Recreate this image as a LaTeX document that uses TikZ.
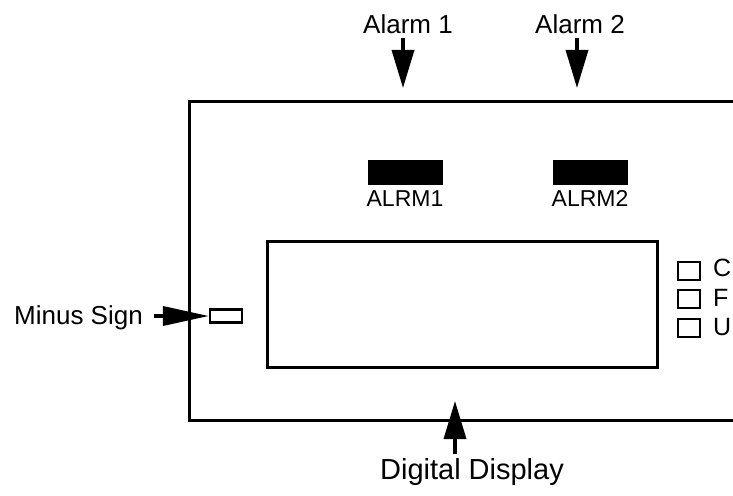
\documentclass[tikz,border=0pt]{standalone}
\usepackage{fontspec}
\setmainfont{Liberation Sans}
\usetikzlibrary{positioning,arrows.meta}

\begin{document}
\begin{tikzpicture}[
    x=1pt, y=-1pt,
    >={Triangle[length=38pt, width=22pt]},
    lbl/.style={inner sep=0pt, font=\fontsize{26}{28}\selectfont},
    small/.style={inner sep=0pt, font=\fontsize{23}{25}\selectfont},
    led/.style={rectangle, fill=black, inner sep=0pt, minimum width=75pt, minimum height=25pt},
    unitbox/.style={rectangle, draw=black, line width=2.2pt, inner sep=0pt, minimum width=22pt, minimum height=18pt},
    arrow/.style={->, line width=3.5pt},
    frame/.style={line width=3pt}
    ]
    \useasboundingbox (0,0) rectangle (733,495);

    % panel outline, open to the right
    \draw[frame] (733,101) -- (189,101) -- (189,420) -- (733,420);
    % digital display window
    \node[draw=black, line width=3pt, rectangle, inner sep=0pt, minimum width=390pt, minimum height=126pt] (display) at (462,304) {};

    % alarm indicators
    \node[led] (led1) at (405,172) {};
    \node[led] (led2) at (590,172) {};
    \node[small, below=6pt of led1] (alrm1) {ALRM1};
    \node[small, below=6pt of led2] (alrm2) {ALRM2};

    \node[lbl] (alarm1) at (408,24) {Alarm 1};
    \node[lbl] (alarm2) at (580,24) {Alarm 2};
    \coordinate (tip1) at (403,88);
    \coordinate (tip2) at (577,88);
    \draw[arrow] (alarm1.south -| tip1) ++(0,4) -- (tip1);
    \draw[arrow] (alarm2.south -| tip2) ++(0,4) -- (tip2);

    % minus sign
    \node[unitbox, minimum width=32pt, minimum height=13pt] (minus) at (226,316) {};
    \node[lbl, anchor=east] (minuslbl) at (143,318) {Minus Sign};
    \coordinate (minustail) at (154,316);
    \draw[line width=3.5pt, -{Triangle[length=46pt, width=19pt]}] (minustail) -- (minus.west);

    % temperature units
    \node[unitbox] (boxC) at (689,271) {};
    \node[unitbox] (boxF) at (689,299) {};
    \node[unitbox] (boxU) at (689,328) {};
    \node[small, anchor=west, font=\fontsize{25}{27}\selectfont] (unitC) at (713,268) {C};
    \node[small, anchor=west, font=\fontsize{25}{27}\selectfont] (unitF) at (713,298) {F};
    \node[small, anchor=west, font=\fontsize{25}{27}\selectfont] (unitU) at (713,327) {U};

    % display label
    \node[lbl, font=\fontsize{29}{32}\selectfont] (displbl) at (472,472) {Digital Display};
    \coordinate (tip3) at (455,401);
    \draw[arrow] (displbl.north -| tip3) ++(0,-4) -- (tip3);
\end{tikzpicture}
\end{document}
